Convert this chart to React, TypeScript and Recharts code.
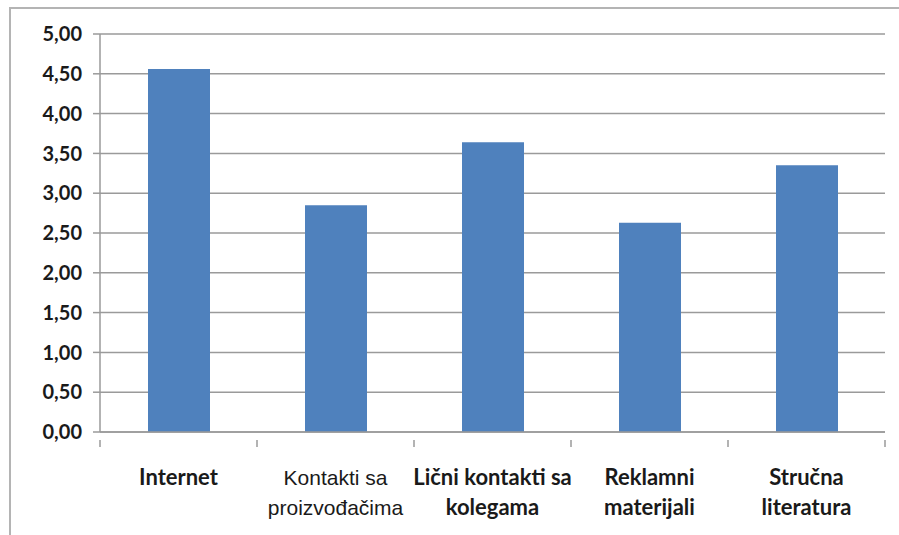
import React from "react";
import { BarChart, Bar, XAxis, YAxis, CartesianGrid } from "recharts";

const categories = [
  "Internet",
  "Kontakti sa\nproizvođačima",
  "Lični kontakti sa\nkolegama",
  "Reklamni\nmaterijali",
  "Stručna\nliteratura",
];
const values = [4.56, 2.85, 3.64, 2.63, 3.35];
const yTicks = [0, 0.5, 1, 1.5, 2, 2.5, 3, 3.5, 4, 4.5, 5];

const data = categories.map((name, i) => ({ name, value: values[i] }));

const boldFont = "Lato, 'Open Sans', sans-serif";
const axisGray = "#9a9a9a";

// category label (maybe two lines) plus Excel-style tick marks between categories
const CategoryTick = (props: any) => {
  const { x, y, payload, width, visibleTicksCount, index } = props;
  const band = width / visibleTicksCount;
  const lines = String(payload.value).split("\n");
  // the second category is set in a plain sans font in the original
  const plain = payload.value.startsWith("Kontakti");
  const font = plain ? "'Liberation Sans', Arial, sans-serif" : boldFont;
  return (
    <g>
      <line
        x1={x + band / 2}
        x2={x + band / 2}
        y1={y}
        y2={y + 7}
        stroke={axisGray}
        strokeWidth={1.5}
      />
      {index === 0 && (
        <line
          x1={x - band / 2}
          x2={x - band / 2}
          y1={y}
          y2={y + 7}
          stroke={axisGray}
          strokeWidth={1.5}
        />
      )}
      {lines.map((line, i) => (
        <text
          key={i}
          x={x}
          y={y + 45 + i * 30}
          textAnchor="middle"
          fill="#1a1a1a"
          style={{ fontFamily: font, fontWeight: plain ? 400 : 700, fontSize: plain ? 21 : 22 }}
        >
          {line}
        </text>
      ))}
    </g>
  );
};

export default function App() {
  return (
    <div
      style={{
        position: "absolute",
        left: 0,
        top: 0,
        width: 899,
        height: 535,
        overflow: "hidden",
        background: "#fff",
      }}
    >
      <div
        style={{
          position: "absolute",
          left: 9,
          top: 7,
          width: 920,
          height: 560,
          border: "2px solid #b4b4b4",
        }}
      />
      <BarChart
        width={899}
        height={535}
        data={data}
        margin={{ top: 34, right: 14, bottom: 0, left: 0 }}
        style={{ position: "absolute", left: 0, top: 0 }}
      >
        <CartesianGrid vertical={false} stroke={axisGray} strokeWidth={1.5} />
        <XAxis
          dataKey="name"
          height={103}
          interval={0}
          tickLine={false}
          axisLine={{ stroke: axisGray, strokeWidth: 1.5 }}
          tick={<CategoryTick />}
        />
        <YAxis
          width={100}
          domain={[0, 5]}
          ticks={yTicks}
          interval={0}
          tickSize={7}
          tickMargin={11}
          tickFormatter={(v: number) => v.toFixed(2).replace(".", ",")}
          tick={{ fill: "#1a1a1a", fontFamily: boldFont, fontWeight: 700, fontSize: 20 }}
          tickLine={{ stroke: axisGray, strokeWidth: 1.5 }}
          axisLine={{ stroke: axisGray, strokeWidth: 1.5 }}
        />
        <Bar dataKey="value" fill="#4f81bd" barSize={62} isAnimationActive={false} />
      </BarChart>
    </div>
  );
}
